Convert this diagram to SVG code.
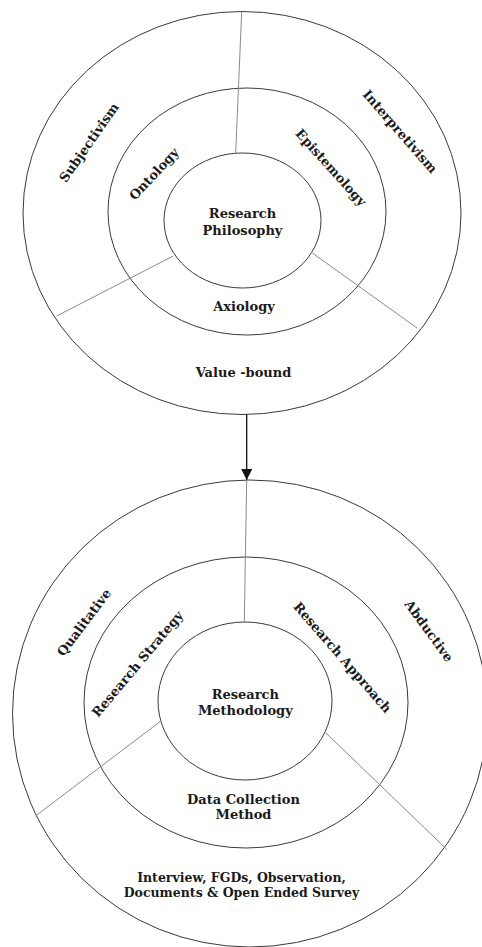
<svg xmlns="http://www.w3.org/2000/svg" width="482" height="947" viewBox="0 0 482 947">
  <defs>
    <style>
      .ring { fill: none; stroke: #3a3a3a; stroke-width: 1; }
      .spoke { fill: none; stroke: #8a8a8a; stroke-width: 1; }
      .lbl { font-family: "DejaVu Serif", "Liberation Serif", serif; font-weight: bold; font-size: 13px; fill: #1a1a1a; text-anchor: middle; }
      .small { font-size: 12.5px; }
      .arrow { stroke: #111; stroke-width: 1.3; fill: none; }
    </style>
    <marker id="head" viewBox="0 0 10 10" refX="10" refY="5" markerWidth="11" markerHeight="11" markerUnits="userSpaceOnUse" orient="auto">
      <path d="M0,0 L10,5 L0,10 Z" fill="#111"/>
    </marker>
  </defs>
  <rect width="482" height="947" fill="#fff"/>

  <!-- Research philosophy wheel -->
  <g id="philosophy-outer">
    <ellipse class="ring" cx="242" cy="213" rx="219" ry="201.5"/>
    <text class="lbl" transform="translate(89,142.5) rotate(-55)" dy="4.5">Subjectivism</text>
    <text class="lbl" transform="translate(400,131.5) rotate(49)" dy="4.5">Interpretivism</text>
    <text class="lbl" x="243.5" y="376.5">Value -bound</text>
  </g>
  <g id="philosophy-middle">
    <ellipse class="ring" cx="247" cy="211.5" rx="139" ry="123.5"/>
    <text class="lbl" transform="translate(154,174) rotate(-47)" dy="4.5">Ontology</text>
    <text class="lbl" transform="translate(331,167.5) rotate(48)" dy="4.5">Epistemology</text>
    <text class="lbl" x="244" y="311">Axiology</text>
  </g>
  <g id="philosophy-core">
    <ellipse class="ring" cx="242.5" cy="220.5" rx="78.5" ry="67.5"/>
    <text class="lbl" x="242.5" y="218">Research</text>
    <text class="lbl" x="242.5" y="234.5">Philosophy</text>
  </g>

  <!-- Research methodology wheel -->
  <g id="methodology-outer">
    <ellipse class="ring" cx="250" cy="713.5" rx="237.5" ry="233.5"/>
    <text class="lbl" transform="translate(84,622.5) rotate(-53)" dy="4.5">Qualitative</text>
    <text class="lbl" transform="translate(429,631) rotate(54)" dy="4.5">Abductive</text>
    <text class="lbl small" x="241.5" y="881.5">Interview, FGDs, Observation,</text>
    <text class="lbl small" x="241.5" y="896.5">Documents &amp; Open Ended Survey</text>
  </g>
  <g id="methodology-middle">
    <ellipse class="ring" cx="246" cy="702.5" rx="162" ry="145.5"/>
    <text class="lbl" transform="translate(137.5,664) rotate(-50)" dy="4.5">Research Strategy</text>
    <text class="lbl" transform="translate(342.5,657.5) rotate(49)" dy="4.5">Research Approach</text>
    <text class="lbl" x="243.5" y="803.5">Data Collection</text>
    <text class="lbl" x="243.5" y="819">Method</text>
  </g>
  <g id="methodology-core">
    <ellipse class="ring" cx="245" cy="701" rx="87" ry="79"/>
    <text class="lbl" x="245.3" y="698.5">Research</text>
    <text class="lbl" x="245.3" y="714.5">Methodology</text>
  </g>

  <!-- Sector dividers and the link between wheels -->
  <g id="connectors">
    <line class="spoke" x1="241.7" y1="11.5" x2="235.7" y2="153"/>
    <line class="spoke" x1="173.3" y1="256" x2="56.7" y2="316"/>
    <line class="spoke" x1="312.3" y1="253" x2="417" y2="328"/>
    <line class="spoke" x1="246.7" y1="480" x2="244.3" y2="622"/>
    <line class="spoke" x1="160" y1="721.7" x2="35.5" y2="816"/>
    <line class="spoke" x1="325.7" y1="732.7" x2="446.7" y2="849.3"/>
    <line class="arrow" x1="246.7" y1="414.5" x2="246.7" y2="480" marker-end="url(#head)"/>
  </g>
</svg>
